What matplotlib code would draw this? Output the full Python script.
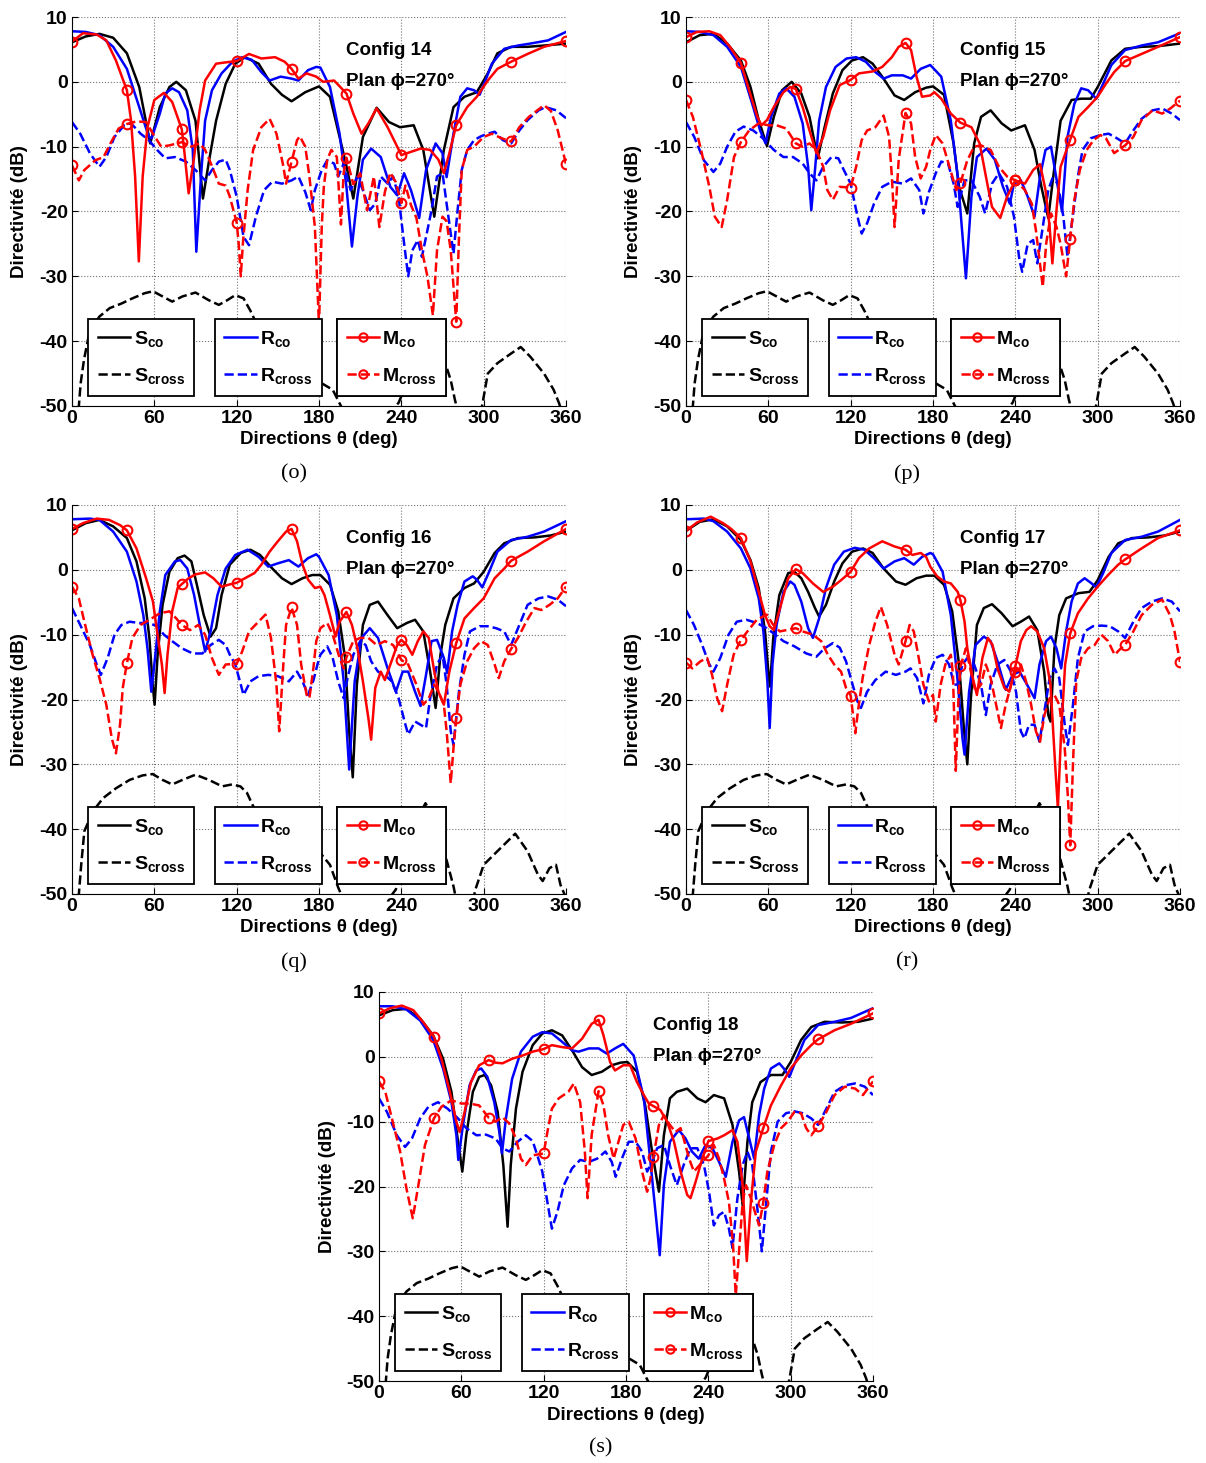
import numpy as np
import matplotlib
matplotlib.use("Agg")
import matplotlib.pyplot as plt
from matplotlib.lines import Line2D

plt.rcParams["font.family"] = ["Liberation Sans", "DejaVu Sans"]
plt.rcParams["font.weight"] = "bold"
plt.rcParams["axes.labelweight"] = "bold"
plt.rcParams["axes.unicode_minus"] = False
plt.rcParams["mathtext.default"] = "regular"

# -----------------------
# Data: (theta deg, directivity dB)
# -----------------------
CONFIGS = ["Config 14", "Config 15", "Config 16", "Config 17", "Config 18"]
PANEL_TAGS = ["(o)", "(p)", "(q)", "(r)", "(s)"]

S_CROSS_A = [(0, -62), (4, -62), (5, -50), (6.3, -46.5), (8.7, -42.9), (13, -38.3), (20, -36.2), (27.5, -34.9),
             (36, -34.2), (44, -33.4), (53, -32.6), (59, -32.3), (66, -33.1), (73, -33.9), (80.5, -33.1),
             (90, -32.5), (99.8, -33.7), (107, -34.4), (113, -33.7), (119, -32.9), (125, -33.4), (130, -35.3),
             (136, -38), (145, -42), (155, -45), (165, -46.3), (175, -46.5), (182, -46.5), (190, -47.5),
             (196, -50), (205, -53), (220, -55), (232, -51), (238, -49.5), (245, -46), (252, -41), (258, -38),
             (264, -38), (268, -40.4), (272, -43.4), (276, -46), (279, -49), (285, -54), (295, -53),
             (299, -49.8), (303, -45), (310, -43.4), (320, -41.9), (327, -40.9), (334, -42.4), (344, -45),
             (351, -47.5), (355, -49.6), (360, -53)]
S_CROSS_B = [(0, -62), (4, -62), (5, -50), (6.7, -45.5), (9, -40.3), (15.4, -37.2), (22.7, -35.2), (32, -33.7),
             (42, -32.4), (51.6, -31.7), (58.8, -31.5), (66, -32.4), (73, -33.1), (80.5, -32.4), (90, -31.6),
             (99.8, -32.4), (109.4, -33.4), (116.6, -33.1), (122.7, -33.4), (127.5, -34.4), (131, -36),
             (138, -39), (146, -42), (155, -44), (165, -44.5), (175, -44), (181, -43.7), (188, -45.5),
             (194, -49), (200, -52), (215, -55), (230, -51), (236, -49.3), (242, -45), (250, -39),
             (257.6, -36), (263, -38), (268.5, -41.7), (273, -44.8), (278, -48.8), (282, -53), (290, -53),
             (294, -49.3), (300, -45.5), (310, -43.4), (323, -40.7), (332, -43.4), (339.5, -47), (343, -48),
             (348, -46), (352.7, -45.5), (356, -48.6), (358.8, -50), (360, -52)]

# Config 14
S_CO_14 = [(0, 6.1), (10, 7.0), (20, 7.4), (30, 6.8), (40, 4.4), (49, -0.8), (57, -9.5), (64, -3.9), (71, -0.8),
           (76, 0), (83, -1.3), (90, -6), (95.4, -18), (100, -12), (105, -6), (112, -0.3), (119, 2.8), (126, 3.8),
           (136, 2.8), (145, -0.3), (153, -2), (160, -3), (170, -1.6), (180, -0.7), (188, -2.3), (195, -8.5),
           (200, -13), (205, -18), (212, -8.5), (222, -4), (231, -6.2), (239, -7), (249, -6.7), (256, -10.5),
           (264, -20.8), (271, -10.5), (278, -3.9), (286, -2.3), (295, -1.6), (303, 1.3), (310, 4.4),
           (320, 5.4), (332, 5.4), (344, 5.6), (360, 5.9)]
R_CO_14 = [(0, 7.8), (10, 7.7), (20, 7.2), (30, 5.4), (40, 2), (49, -3.9), (56, -8.5), (58, -8.7), (64, -4.9),
           (68, -1.8), (73, -1), (78, -1.6), (84, -4.4), (88, -10.5), (90.6, -26.2), (94, -14.6), (97, -6),
           (102, -1.3), (109, 1.3), (117, 3.1), (124, 3.8), (131, 3.4), (138, 1.5), (144, 0.2), (152, 0.8),
           (160, 0.5), (165, 0.2), (172, 1.8), (178, 2.3), (181, 2.2), (188, -0.8), (195, -8), (200, -16.2),
           (204, -25.4), (208, -17.7), (212, -12), (218, -10.3), (225, -11.6), (232, -16.2), (237, -17.5),
           (242, -14.1), (247, -16.7), (253, -21), (258, -13.6), (265, -9.5), (270, -11), (273, -14.7),
           (278, -8), (283, -2.3), (288, -1), (293, -1.3), (297, -2), (300, -0.5), (306, 2.8), (315, 5.1),
           (325, 5.6), (334, 5.9), (347, 6.4), (360, 7.7)]
R_CROSS_14 = [(0, -6.2), (6, -8), (13, -11), (20, -13.1), (25, -11.6), (31, -8.5), (38, -6.7), (43, -6.4),
              (50, -8), (56, -9), (62, -10.5), (68, -11.8), (75, -11.6), (83, -12.3), (90, -13.6), (97, -15.2),
              (102, -13.6), (107, -12.3), (112, -12), (115, -13.6), (120, -17.7), (125, -23.9), (129, -25.2),
              (134, -20.8), (140, -16.7), (146, -15.4), (153, -15.7), (160, -15.2), (165, -14.6), (170, -17),
              (174, -19.8), (177, -16.7), (182, -13.6), (186, -12.1), (191, -12.6), (194, -14.6), (198, -12.6),
              (203, -16.7), (208, -14.6), (212, -16.7), (217, -19.8), (221, -18.8), (225, -14.6), (230, -15.7),
              (234, -14.6), (238, -17.7), (242, -24.9), (245, -30), (248, -26), (252, -24.4), (255, -27),
              (259, -22.9), (262, -19.8), (266, -14.6), (270, -14.1), (273, -18.8), (278, -26.5), (281, -19.8),
              (284, -13.6), (288, -10.5), (293, -9), (298, -8.4), (303, -8), (308, -7.7), (314, -9), (320, -9.5),
              (326, -7.5), (332, -5.9), (340, -4.4), (345, -3.9), (353, -4.4), (360, -5.6)]
M_CO_14 = [(0, 6.2), (8, 7.5), (18, 7.3), (25, 6.4), (32, 3.3), (40, -1.3), (43, -5.9), (46, -14.6), (48.7, -27.7),
           (51.5, -14.6), (55, -7), (60, -2.8), (67, -1.7), (73, -3.1), (80, -7.3), (82, -11), (85, -17.2),
           (89, -11.6), (93, -4.4), (97, 0.2), (105, 2.8), (112, 3), (120, 3.2), (129, 4.3), (138, 3.6),
           (148, 3.8), (155, 3.1), (160, 2), (165, 0.5), (171, 1.3), (178, 0.8), (183, 0), (191, 0.2),
           (200, -1.8), (205, -4.9), (211, -8), (216, -6.4), (222, -4.1), (230, -7), (237, -10), (240, -11.3),
           (247, -10.8), (254, -10.3), (261, -10.5), (267, -12), (271, -14.1), (275, -11), (280, -6.7),
           (288, -3.9), (295, -2.3), (303, 0.2), (310, 2), (320, 3.1), (332, 4.3), (344, 5.4), (360, 6.3)]
M_CROSS_14 = [(0, -12.9), (5, -15.2), (9, -13.6), (17, -12.1), (23, -11.6), (28, -9.5), (34, -7.2), (40, -6.5),
              (47, -6.1), (54, -6.2), (59, -8), (65, -10), (71, -9.8), (80, -9.3), (87, -10), (93, -9.5),
              (97, -10.5), (102, -13), (107, -15.7), (112, -16), (115, -17.7), (120, -21.7), (121.5, -25),
              (123, -30), (124.5, -25), (128, -16.7), (132, -10.5), (138, -7), (144, -5.7), (149, -8), (154, -13),
              (156, -15.7), (160, -12.3), (164, -9), (166, -8.4), (170, -10), (173, -14.6), (177, -22.4),
              (180, -37.5), (182, -22.4), (183.5, -16.2), (186, -12), (189, -10.5), (193, -11.6), (196, -22),
              (198, -14), (200, -11.7), (205, -15.8), (210, -14.1), (215, -19.8), (220, -14.6), (224, -22.4),
              (228, -17), (232, -14), (236, -15.5), (240, -18.7), (243, -16), (247, -19), (251, -21), (255, -26),
              (259, -30), (263, -36), (266, -26), (270, -20.8), (273, -21.5), (276, -26), (280, -37), (282, -24),
              (284, -13.6), (288, -10.5), (293, -10), (300, -8.5), (306, -8), (313, -8.7), (320, -9.2),
              (326, -7), (333, -5.4), (344, -3.6), (349, -4.5), (354, -7.5), (360, -12.7)]

# Config 15
S_CO_15 = [(0, 6.1), (10, 7.2), (20, 7.4), (30, 5.9), (40, 3.3), (47, -0.8), (53, -5.9), (59, -9.9), (64, -5.4),
           (70, -1.3), (77, 0), (84, -1.8), (90, -5.4), (96, -11.8), (101, -7), (107, -1.8), (114, 1.8),
           (121, 3.3), (129, 3.8), (136, 2.8), (143, 0.8), (152, -2.1), (159, -2.8), (167, -1.6), (175, -0.9),
           (180, -0.7), (188, -2), (195, -9.5), (199, -16.2), (205, -20.3), (210, -9.5), (215, -5.4),
           (222, -4.4), (230, -6.4), (237, -7.5), (247, -6.7), (254, -10.5), (259, -16.2), (264, -21),
           (268, -14), (273, -6), (281, -2.8), (288, -2.6), (295, -2.6), (300, -0.8), (310, 3.3), (320, 5.1),
           (332, 5.4), (344, 5.5), (360, 5.9)]
R_CO_15 = [(0, 7.8), (10, 7.7), (20, 7.2), (30, 5.4), (40, 2.3), (49, -3.9), (54, -7.5), (58, -9.5), (62, -5.4),
           (68, -1.8), (73, -1), (79, -2.3), (85, -6.4), (89, -13.1), (91.3, -19.8), (94, -13.6), (97, -6),
           (102, -0.8), (109, 2.3), (117, 3.6), (124, 3.8), (131, 3.1), (138, 1.5), (144, 0.5), (150, 1),
           (158, 1), (164, 0.5), (171, 2), (178, 2.6), (186, 0.8), (193, -6), (198, -14.6), (204, -30.3),
           (208, -17.7), (212, -11.6), (219, -10.3), (225, -12), (231, -16.2), (236, -18.8), (239, -15.7),
           (244, -15.2), (249, -17.7), (254, -20.8), (258, -14.6), (262, -10.5), (266, -10), (270, -15),
           (274, -20), (278, -8.5), (283, -3.4), (288, -1), (293, -1.3), (299, -2.6), (304, -0.3), (310, 2.6),
           (320, 4.9), (332, 5.6), (344, 6.1), (360, 7.5)]
R_CROSS_15 = [(0, -6.2), (6, -8.5), (13, -12.1), (20, -13.9), (25, -12.6), (30, -10), (36, -7.7), (42, -6.9),
              (49, -7.5), (56, -8.7), (64, -10.5), (71, -11.6), (78, -11.6), (85, -12.6), (90, -14.1),
              (95, -15.2), (100, -13.1), (106, -11.6), (111, -11.8), (115, -13.6), (120, -15.7), (125, -20.8),
              (128, -23.4), (132, -21.8), (137, -18.8), (143, -16.2), (150, -15.4), (158, -15.7), (164, -14.9),
              (170, -16.7), (173, -20.3), (177, -17), (182, -14.1), (186, -12.3), (191, -12.6), (195, -15.7),
              (198, -19.3), (203, -15.2), (208, -15.2), (214, -17.7), (218, -20.3), (223, -15.7), (228, -14.1),
              (234, -16.2), (239, -20.8), (243, -27.5), (245, -29.3), (249, -25), (253, -24.4), (256, -28),
              (260, -22.4), (264, -16.7), (267, -14.9), (271, -15.7), (275, -20.8), (278, -27), (282, -20.5),
              (286, -14.1), (289, -10.5), (295, -8.7), (302, -8.2), (308, -8), (314, -8.7), (320, -9.5),
              (326, -7.5), (332, -5.7), (340, -4.4), (347, -4.1), (354, -4.9), (360, -5.9)]
M_CO_15 = [(0, 6.9), (8, 7.7), (17, 7.8), (25, 7.2), (32, 5.4), (40, 2.9), (46, -1.3), (52, -5.4), (55, -6.7),
           (59, -5.9), (64, -3.9), (71, -1.6), (76, -0.8), (80, -1.1), (85, -3.9), (90, -7.5), (95, -11),
           (100, -8.5), (105, -4.4), (112, -0.5), (120, 0.3), (126, 1.3), (136, 1.6), (143, 2.3), (150, 3.8),
           (155, 5.4), (160, 6), (164, 4.9), (168, 0.8), (172, -2.3), (178, -2.1), (181, -1.6), (186, -2.6),
           (193, -4.9), (200, -6.3), (208, -7), (214, -9.5), (220, -16.2), (223, -19.3), (229, -21),
           (234, -17.7), (240, -15.2), (247, -15.7), (253, -13.6), (258, -12.7), (262, -16.7), (265, -22.4),
           (267, -28), (270, -19.8), (273, -13.1), (280, -8.9), (286, -5.4), (293, -3.9), (300, -2.3),
           (306, -0.3), (312, 1.5), (320, 3.2), (332, 4.3), (344, 5.4), (360, 6.9)]
M_CROSS_15 = [(0, -2.8), (5, -5.4), (11, -10.5), (17, -16.2), (21, -20.8), (26, -22.4), (30, -18.2), (35, -11.6),
              (40, -9.3), (46, -7.5), (53, -6.4), (60, -6.7), (66, -6.7), (73, -7.2), (80, -9.5), (85, -10),
              (90, -9.5), (95, -10.5), (100, -13.1), (103, -16.7), (107, -18.2), (112, -16.2), (120, -16.3),
              (124, -13.1), (128, -9), (132, -7.5), (138, -7), (144, -5.2), (148, -8.5), (150, -14.6),
              (152, -22.4), (155, -12), (160, -4.8), (164, -6.4), (167, -11.6), (171, -14.9), (175, -13.1),
              (178, -10.5), (182, -8.2), (187, -9.5), (192, -13.1), (197, -16.7), (200, -15.6), (205, -12.1),
              (210, -10), (215, -9.8), (222, -10.5), (228, -13.1), (234, -14.6), (240, -15.2), (247, -16.7),
              (252, -18.8), (255, -22.9), (258.5, -29), (260, -31.6), (262.5, -24.9), (266, -20.3), (270, -22.4),
              (273, -25), (277, -30), (280, -24.2), (283, -18.2), (287, -13.6), (292, -10.5), (297, -9),
              (302, -8.2), (306, -8.7), (312, -11), (320, -9.8), (326, -8.5), (332, -5.9), (340, -4.4),
              (347, -4.9), (353, -4.1), (360, -2.9)]

# Config 16
S_CO_16 = [(0, 6.1), (10, 7.2), (20, 7.7), (30, 6.7), (40, 4.9), (47, 1.3), (53, -4.4), (56.4, -10.5),
           (58.8, -17.7), (60.2, -20.8), (62.4, -13.1), (66, -5.4), (71, -0.3), (77, 1.8), (82, 2.2), (87, 1.3),
           (91, -2.3), (96, -7), (101, -10.3), (105, -9), (109, -3.9), (115, 0.8), (123, 2.6), (130, 3.1),
           (137, 2.3), (146, 0.2), (153, -1.3), (160, -2.2), (168, -1.3), (175, -0.8), (181, -0.8), (188, -2.3),
           (194, -6.4), (199, -13.6), (202, -25), (204.6, -32), (207.6, -17.7), (212, -8.5), (217, -5.4),
           (223, -4.9), (230, -7), (237, -9), (244, -8.2), (250, -7.7), (256, -9.5), (261, -15.7), (265, -21.3),
           (268.5, -13.1), (272, -8.5), (278, -4.4), (286, -2.8), (293, -2.1), (300, -0.3), (308, 2.6),
           (315, 4.1), (325, 4.9), (337, 5), (349, 5.3), (360, 5.9)]
R_CO_16 = [(0, 7.8), (13, 7.9), (20, 7.7), (30, 5.9), (40, 2.8), (47, -1.8), (52, -7), (55, -12.1), (57.8, -18.8),
           (60, -14.6), (64, -6.4), (68, -0.8), (75, 1.3), (79, 1.5), (84, 0.2), (89, -3.9), (94, -9.5),
           (97, -12.6), (101, -9.5), (106, -3.9), (112, 0.2), (119, 2.3), (128, 3.1), (136, 2), (143, 0.5),
           (150, 1), (158, 1.5), (165, 0.5), (172, 1.8), (178, 2.4), (180, 2), (187, -0.8), (193, -7),
           (198, -17.2), (202, -30.8), (206, -17.2), (211, -10.5), (217, -9), (223, -10.5), (230, -15.2),
           (236, -18.8), (241, -15.7), (245, -15.7), (250, -18.8), (254, -21), (258, -16.2), (262, -11),
           (266, -10.8), (271, -13.6), (273.4, -15.9), (277, -9.5), (281, -5.4), (286, -1.8), (292, -1),
           (295, -1.5), (299, -2.7), (304, -0.3), (310, 2.8), (320, 4.6), (332, 5.1), (344, 5.9), (360, 7.5)]
R_CROSS_16 = [(0, -5.9), (6, -8.5), (13, -11.6), (18, -14.6), (21, -16.2), (26, -13.6), (31, -10), (36, -8.5),
              (42, -8), (49, -8.2), (56, -8.2), (62, -8.7), (67, -10), (73, -11), (80, -12.1), (88, -12.9),
              (95, -12.9), (101, -11.6), (107, -10.8), (112, -11.6), (115, -13.1), (119, -14.6), (123, -17.7),
              (125, -19.3), (130, -17.2), (136, -16.4), (143, -16.2), (150, -16.4), (158, -17.2), (164, -15.7),
              (168, -17.2), (172, -19.3), (176, -17), (179, -14.5), (181, -13.1), (186, -11.8), (190, -13.6),
              (194, -17.2), (198, -19.8), (201, -16.5), (205, -13.1), (210, -11), (214, -11.6), (218, -14.1),
              (223, -15.7), (228, -16.2), (233, -17.2), (238, -19.8), (243, -23.9), (245, -25.4), (250, -23.4),
              (254, -23.9), (258, -24.4), (261, -19.8), (266, -14.6), (270, -13.1), (273, -17.7), (276, -24.9),
              (278, -27), (282, -18.8), (286, -13.1), (290, -9.5), (297, -8.7), (303, -8.7), (309, -9),
              (315, -9.5), (320, -11.6), (326, -8.5), (332, -5.4), (340, -4.4), (347, -4.1), (354, -4.6),
              (360, -5.6)]
M_CO_16 = [(0, 6.3), (8, 7.2), (18, 7.9), (27, 7.7), (35, 6.9), (40, 6.1), (47, 3.3), (54, -1.3), (59, -4.9),
           (62, -9.5), (65.5, -14.6), (67.5, -19), (69.6, -13.1), (73, -6.4), (77, -2.8), (80, -2.2), (85, -1.3),
           (90, -0.7), (97, -0.4), (103, -1.3), (109, -2.6), (114, -2.3), (120, -2), (126, -1.3), (133, -0.5),
           (138, 0.8), (144, 2.8), (150, 4.4), (156, 5.9), (160, 6.3), (164, 4.4), (168, 0.8), (172, -1.5),
           (177, -2.8), (181, -2.6), (184, -3.9), (188, -7), (192, -10.3), (195, -8), (200, -6.5), (204, -8.5),
           (208, -12.1), (212, -17.2), (216, -22.9), (218, -26.2), (221, -18.2), (225, -15.7), (228, -17),
           (232, -14.6), (237, -11.6), (240, -10.8), (244, -11.6), (248, -13.1), (252, -11), (256, -9.5),
           (260, -10.5), (264, -15.7), (267, -18.8), (271, -20.8), (275, -15.7), (280, -11.3), (286, -7.5),
           (293, -5.9), (300, -4.4), (308, -1.3), (315, 0.2), (320, 1.4), (332, 2.8), (344, 4.4), (360, 6.3)]
M_CROSS_16 = [(0, -2.6), (5, -4.4), (9, -8), (15, -13.1), (20, -16.7), (25, -20.8), (29, -26), (32, -28.3),
              (35, -23.9), (37, -18.2), (40, -14.4), (44, -10.5), (50, -8.5), (58, -7.5), (64, -6.7), (71, -6.4),
              (76, -7.5), (80, -8.5), (86, -9.3), (92, -8.5), (97, -10), (102, -13.6), (107, -16.2), (112, -14.6),
              (120, -14.5), (124, -12.6), (129, -9.5), (135, -8.2), (141, -6.9), (145, -10.5), (149, -17.7),
              (151, -24.9), (154, -14.6), (156, -8.5), (160, -5.8), (164, -8.5), (167, -14.6), (171, -19.3),
              (173, -19.8), (176, -15), (178, -11), (181, -9), (186, -8.2), (190, -10), (195, -13.6),
              (198, -15.2), (200, -13.5), (205, -11), (210, -10.5), (216, -10.5), (222, -11.6), (228, -11),
              (234, -11.6), (240, -13.9), (245, -14.6), (251, -17.7), (256, -20.8), (260, -19.8), (264, -17.7),
              (267, -18.8), (271, -20.8), (273, -24.9), (276, -32.9), (278, -27.5), (280, -22.9), (283, -17.7),
              (288, -14.1), (293, -12.1), (298, -11), (303, -11.6), (308, -14.6), (311, -16.7), (315, -14.1),
              (320, -12.2), (325, -10.5), (331, -8), (337, -5.9), (342, -6.2), (348, -5.4), (354, -4.4),
              (360, -2.6)]

# Config 17
S_CO_17 = [(0, 6), (10, 7.4), (20, 7.8), (30, 6.7), (40, 4.6), (47, 1.5), (53, -2.8), (57.6, -9.5), (60, -15.7),
           (61.2, -18), (63.6, -10.5), (68, -3.9), (74.5, -0.5), (79, -0.3), (84, -1.3), (89, -3.4), (94, -5.9),
           (97, -7.2), (102, -5.4), (108, -1.8), (114, 1), (121, 2.8), (129, 3.3), (136, 2.6), (144, 0.2),
           (153, -1.8), (160, -2.3), (168, -1.3), (175, -0.9), (181, -0.9), (188, -2.3), (194, -6.4),
           (199, -14.6), (202.7, -25), (205, -30), (207.6, -19.8), (212, -8.5), (217, -5.9), (223, -5.3),
           (230, -6.7), (238, -8.7), (244, -8), (250, -7.2), (256, -9.3), (261, -15.7), (264, -22.4),
           (265.6, -23.4), (268.5, -12.1), (272, -7), (277, -4.4), (286, -3.6), (294, -3.4), (300, -1.6),
           (308, 2), (315, 4.1), (325, 4.9), (337, 5), (349, 5.3), (360, 5.9)]
R_CO_17 = [(0, 7.8), (13, 7.9), (20, 7.5), (30, 5.9), (40, 3.3), (47, 0.2), (53, -4.4), (56.4, -9.5),
           (59.3, -17.2), (61, -24.4), (63, -14.6), (66, -8.5), (71, -3.4), (76, -1.8), (79, -2.3), (84, -4.9),
           (89, -9), (92.5, -10.5), (97, -7.5), (102, -2.8), (108, 0.8), (115, 2.8), (123, 3.4), (130, 3.1),
           (137, 1.8), (144, 0.2), (152, 1.3), (159, 1.8), (166, 0.8), (172, 2), (178, 2.6), (180, 2.4),
           (187, -0.3), (193, -7), (198, -17.2), (201.5, -26), (203, -28.5), (206.3, -18.8), (211, -11.6),
           (217, -10.3), (222, -11), (227, -14.1), (233, -18.5), (238, -16.2), (243, -15.7), (248, -17.5),
           (254, -19.8), (257.6, -14.6), (262.4, -11), (266, -10.3), (270, -12.1), (273.4, -15.2), (277, -9.5),
           (281, -4.9), (285.6, -2.1), (290.5, -1.3), (295, -2), (299, -2.7), (304, -0.5), (310, 2.6),
           (320, 4.6), (332, 5.1), (344, 5.9), (360, 7.7)]
R_CROSS_17 = [(0, -6.2), (5.8, -8.5), (11.8, -11.6), (16.6, -14.4), (20, -15.7), (25, -13.6), (31, -10), (37, -8),
              (44, -7.7), (51.6, -8.2), (58.8, -9), (65, -10), (71, -11), (79, -11.8), (87.7, -12.9), (95, -13.4),
              (101, -12.1), (107, -11.3), (112, -12), (116.6, -14.1), (121.4, -17.7), (125, -20.3),
              (127.5, -21.3), (132, -18.8), (138, -17), (145.5, -15.7), (153, -16.2), (160, -15.7),
              (163.6, -15.2), (168.4, -16.7), (173, -20.6), (177, -16.2), (182, -13.6), (187, -13.1),
              (191.7, -14.6), (195.4, -17.7), (198, -17.7), (201.5, -14.6), (205, -13.6), (210, -14.6),
              (215, -17.7), (218.5, -22.4), (222, -17.7), (227, -14.6), (232, -13.9), (236.8, -15.7),
              (240.5, -18.8), (244, -24.9), (246.6, -26), (250, -23.9), (254, -23.9), (257.6, -26.5),
              (261.2, -21.8), (265, -16.7), (268.5, -15.2), (272, -16.7), (276, -23.9), (278.3, -27),
              (282, -20.8), (285.6, -13.6), (290.5, -9.5), (296.6, -8.7), (302.7, -8.6), (308.8, -8.7),
              (315, -9.5), (320, -10.5), (326, -8), (332, -5.9), (339.5, -4.9), (347, -4.4), (354, -4.9),
              (360, -6.4)]
M_CO_17 = [(0, 6), (8, 7.3), (18, 8.2), (27, 7.2), (33, 6.3), (40, 4.9), (47, 1.3), (53, -3.4), (57.6, -7),
           (61, -8.7), (64, -9.3), (68.4, -6), (74.5, -1.3), (80, 0.1), (85, -0.5), (92.5, -2.1), (100, -3.4),
           (107, -2.6), (113, -1.6), (120, -0.3), (126, 1.8), (133.5, 3.3), (143, 4.4), (152, 3.6), (160, 3.1),
           (165, 2.3), (171, 2.6), (175, 2), (178, 0.5), (183, -1), (188, -1.8), (193, -2.1), (198, -3.4),
           (200, -4.7), (203, -8), (205, -12.1), (209, -16.7), (212, -19.3), (216, -13.6), (220, -10.5),
           (223.4, -11.6), (227, -15.2), (232, -18.2), (235.6, -18.8), (240, -14.9), (244, -11), (248, -9.3),
           (251.5, -8.7), (256, -9.5), (261, -12.1), (265.6, -17.7), (269, -30), (271, -36.8), (273.4, -24.9),
           (276.3, -14.6), (280, -9.8), (285.6, -6.7), (293, -4.4), (300, -2.6), (307.6, -0.8), (315, 0.8),
           (320, 1.6), (332, 3.3), (344, 4.9), (360, 6.1)]
M_CROSS_17 = [(0, -14.3), (4.6, -15.2), (10.6, -14.1), (15.4, -13.6), (19, -16.2), (22.7, -19.8), (26.3, -21.8),
              (30, -17.7), (34.7, -13.1), (40, -10.8), (45.5, -9.3), (51.6, -7.7), (58.8, -6.9), (63.6, -8.5),
              (68.4, -9.5), (73, -9.3), (80, -9), (85, -9.5), (92.5, -10), (98.5, -11), (103.4, -13.1),
              (108, -14.6), (113, -15.7), (116.6, -18.2), (120, -19.4), (121.4, -21.8), (123.4, -25.2),
              (125.3, -21.8), (128.7, -16.7), (133.5, -11.6), (138, -8), (142, -5.7), (146.6, -8.5),
              (152, -13.1), (155, -14.6), (160, -11), (163, -8.5), (166, -9.5), (169.6, -13.6), (173, -17.7),
              (177, -20.3), (180, -19.3), (182, -23.4), (185.6, -17.7), (189, -14.6), (193, -13.1),
              (194.5, -16), (196.6, -31), (198.5, -20), (200, -14.9), (204, -12.1), (207.6, -15.7),
              (211, -18.8), (215, -17.7), (218.5, -14.6), (222, -16.7), (226, -20.8), (229.5, -24.4),
              (233, -20.8), (237, -17.7), (240, -15.7), (244, -14.6), (247.8, -17.2), (251.5, -20.8),
              (255, -24.9), (258, -26.5), (261.2, -22.4), (265, -19.8), (268.5, -19.3), (272, -20.8),
              (276, -27.5), (278.3, -35), (280, -42.5), (282, -30), (284.4, -17.2), (288, -13.6), (293, -12.1),
              (297.8, -11.6), (302.7, -10), (307.6, -11), (312.4, -13.1), (316, -12.3), (320, -11.6),
              (326, -9.5), (332, -7), (339.5, -5.4), (347, -4.6), (352.7, -7), (356, -9.5), (360, -14.2)]

# Config 18
S_CO_18 = [(0, 6.4), (10, 7.2), (20, 7.4), (30, 5.9), (39.5, 3.3), (46.7, -0.3), (52.8, -5.4), (57.6, -13.1),
           (60.7, -17.7), (63.6, -12.1), (68.4, -5.4), (73, -3.1), (77, -2.8), (81.7, -4.4), (86.5, -8.5),
           (90.6, -16.7), (93.7, -26.2), (96, -16.7), (99.8, -8), (104.6, -2.3), (112, 1.8), (119, 3.6),
           (126, 4.1), (133.5, 3.3), (140.7, 1), (148, -1.6), (155, -2.8), (162.4, -2.3), (169.6, -1.3),
           (176, -0.9), (181, -0.8), (188, -2.3), (194, -7.5), (199, -14.6), (204, -20.8), (207.6, -12.1),
           (212, -6.4), (217, -5.4), (224.6, -4.9), (232, -6.4), (238, -7), (244, -5.9), (251.5, -6.4),
           (257.6, -10.5), (262.4, -17.7), (265, -22.9), (268.5, -13.1), (272, -7), (278, -3.9), (285.6, -2.8),
           (294, -2.8), (300, -0.8), (307.6, 2.6), (315, 4.6), (324.6, 5.4), (337, 5.3), (349, 5.4), (360, 5.9)]
R_CO_18 = [(0, 7.8), (10, 7.8), (20, 7.3), (30, 5.6), (39.5, 2.6), (46.7, -1.8), (52.8, -7), (56.4, -12.1),
           (57.8, -15.9), (61.2, -10.5), (66, -4.4), (70.8, -2.1), (74.5, -1.8), (79, -3.1), (84, -7),
           (87.7, -11.6), (89.6, -14.9), (92.5, -9.5), (97, -3.4), (103.4, 0.8), (112, 3.1), (119, 3.8),
           (126, 3.6), (133.5, 2.3), (140.7, 1), (145.5, 0.8), (153, 1.3), (160, 1.3), (166, 0.5), (172, 1.3),
           (178, 2), (185.6, 0.2), (193, -6.4), (197.8, -16.2), (202, -25), (204.6, -30.6), (207.6, -19.8),
           (212, -13.1), (218.5, -11.3), (223.4, -12.6), (228, -14.6), (233, -15.7), (238, -13.6), (243, -14.1),
           (247.8, -16.2), (252.7, -18.5), (257.6, -13.1), (262.4, -9.8), (266, -9.3), (269.8, -12.6),
           (273.4, -15.7), (277, -9), (280.7, -4.9), (285.6, -1.8), (291.7, -1), (295, -1.8), (299, -3.1),
           (304, -0.5), (310, 2.6), (320, 4.9), (332, 5.4), (344, 6), (360, 7.5)]
R_CROSS_18 = [(0, -6.4), (5.8, -8.5), (13, -12.1), (19, -13.9), (24, -12.6), (30, -9.5), (36, -7.7), (43, -7),
              (50, -8), (57.6, -9.5), (63.6, -11), (71, -12.1), (78, -12), (85, -12.6), (90, -14.1), (95, -14.6),
              (101, -13.1), (107, -12.1), (112, -13), (115.4, -15.2), (119, -17.7), (122.7, -22.4), (126, -26.5),
              (130, -23.9), (134.7, -19.8), (140.7, -17.2), (146.6, -15.9), (153, -16.2), (159, -15.7),
              (165, -14.6), (169.6, -16.2), (172.5, -18.5), (177, -15.7), (182, -13.1), (187, -13.1),
              (191.7, -14.6), (195.4, -17.7), (199, -16.2), (202.7, -14.1), (207.6, -13.6), (212, -16.7),
              (217, -19.8), (222, -16.7), (227, -14.1), (232, -14.1), (236.8, -16.7), (240.5, -20.8), (244, -26),
              (247.8, -24.4), (251.5, -23.9), (255, -26.5), (257.6, -29.5), (261.2, -21.8), (265, -16.7),
              (268.5, -14.6), (272, -16.7), (276, -23.9), (279, -30), (282, -22.9), (285.6, -14.6),
              (290.5, -10), (296.6, -8.7), (302.7, -8.4), (308.8, -8.7), (315, -9.5), (320, -10.5), (326, -8),
              (332, -5.4), (339.5, -4.4), (347, -4.1), (354, -4.6), (360, -5.9)]
M_CO_18 = [(0, 6.7), (8, 7.5), (16.6, 7.9), (25, 7.2), (32, 5.4), (40, 3.1), (45.5, -0.3), (51.6, -5.4),
           (56.4, -10), (58.8, -11.6), (62.4, -8.5), (67, -3.9), (73, -1.3), (80, -0.5), (85, -0.9), (90, -1),
           (97, -0.3), (104.6, 0.2), (112, 0.8), (120, 1.2), (126, 1.8), (133.5, 1.5), (140.7, 1.3), (148, 2.8),
           (155, 5.1), (160, 5.7), (163.6, 3.3), (168.4, -0.8), (172, -2.1), (178, -1.3), (183, -1.3),
           (188, -3.9), (193, -5.9), (196.6, -7.2), (200, -7.6), (205, -8.2), (210, -10), (215, -13.1),
           (219.8, -17.7), (224.6, -21.3), (227, -21.8), (230.7, -19.3), (235.6, -15.7), (240, -13),
           (246.6, -12.6), (251.5, -12.1), (257.6, -11.3), (261.2, -13.1), (265, -19.8), (268, -31.5),
           (271, -22.4), (274.6, -14.6), (280, -11), (285.6, -7.5), (293, -4.4), (300, -1.8), (307.6, 0.2),
           (315, 1.8), (320, 2.7), (332, 4.1), (344, 5.1), (360, 6.7)]
M_CROSS_18 = [(0, -3.8), (4.6, -5.4), (9.4, -9.5), (15.4, -14.6), (20, -20.3), (24.6, -24.9), (28.7, -19.8),
              (33.5, -13.6), (40, -9.5), (45.5, -7.7), (52.8, -6.7), (60, -7.2), (66, -7.2), (73, -7.5),
              (80, -9.4), (85, -10), (90, -9.3), (95, -10.3), (99.8, -12.6), (103.4, -15.7), (107, -16.7),
              (112, -15.2), (120, -14.9), (122.7, -11.6), (126, -8), (131, -6.4), (138, -5.4), (142, -4.1),
              (146.6, -7), (150, -14.6), (152, -21.8), (155, -12), (160, -5.3), (163.6, -7.5), (167, -12.1),
              (171, -15.7), (174.5, -13.1), (178, -10.5), (182, -10), (187, -12.6), (191.7, -17.7),
              (195.4, -20.8), (197.8, -18.8), (200, -15.4), (204, -10.5), (207.6, -9), (212, -10.5),
              (216, -11.6), (219.8, -11), (222, -12.6), (226, -15.7), (229.5, -17.7), (234.4, -16.5),
              (240, -15.2), (244, -13.6), (247.8, -15.7), (251.5, -18.8), (255, -22.4), (258, -29), (260, -36.8),
              (262.4, -30), (265, -22.4), (267.4, -19.8), (271, -21.8), (274.6, -24.4), (277, -26), (280, -22.5),
              (283, -17.7), (288, -13.6), (293, -11), (297.8, -10), (302.7, -8.5), (307.6, -8.7), (311.3, -11),
              (315, -12.1), (320, -10.7), (326, -8.5), (332, -5.9), (339.5, -4.6), (347, -4.9), (352.7, -5.9),
              (360, -3.8)]

S_CO = [S_CO_14, S_CO_15, S_CO_16, S_CO_17, S_CO_18]
S_CROSS = [S_CROSS_A, S_CROSS_A, S_CROSS_B, S_CROSS_B, S_CROSS_A]
R_CO = [R_CO_14, R_CO_15, R_CO_16, R_CO_17, R_CO_18]
R_CROSS = [R_CROSS_14, R_CROSS_15, R_CROSS_16, R_CROSS_17, R_CROSS_18]
M_CO = [M_CO_14, M_CO_15, M_CO_16, M_CO_17, M_CO_18]
M_CROSS = [M_CROSS_14, M_CROSS_15, M_CROSS_16, M_CROSS_17, M_CROSS_18]

X_TICKS = [0, 60, 120, 180, 240, 300, 360]
Y_TICKS = [-50, -40, -30, -20, -10, 0, 10]

# -----------------------
# Layout (pixels)
# -----------------------
FIG_W, FIG_H = 1206, 1463
AX_W, AX_H = 494, 389
AX_POS = [(72, 17), (686, 17), (72, 505), (686, 505), (379, 992)]
TAG_POS = [(294, 474), (907, 474), (294, 962), (907, 962), (601, 1448)]
LW = 1.8


def xy(pts):
    a = np.array(pts, dtype=float)
    return a[:, 0], a[:, 1]


def box_legend(ax, handles, labels, x0):
    leg = ax.legend(handles, labels, loc="lower left", bbox_to_anchor=(x0, 0.026),
                    borderaxespad=0, frameon=True, fancybox=False, edgecolor="k",
                    framealpha=1, handlelength=1.65, handletextpad=0.2, borderpad=0.5,
                    labelspacing=0.9, numpoints=1, prop={"size": 14, "weight": "bold"})
    leg.get_frame().set_linewidth(1.3)
    leg.set_zorder(10)
    ax.add_artist(leg)


fig = plt.figure(figsize=(FIG_W / 100, FIG_H / 100), dpi=100)

for i in range(5):
    l, t = AX_POS[i]
    ax = fig.add_axes([l / FIG_W, 1 - (t + AX_H) / FIG_H, AX_W / FIG_W, AX_H / FIG_H])

    for pts, col, ls in [(S_CO[i], "k", "-"), (S_CROSS[i], "k", "--"),
                         (R_CO[i], "b", "-"), (R_CROSS[i], "b", "--")]:
        th, v = xy(pts)
        ax.plot(th, v, color=col, ls=ls, lw=LW)
    for pts, ls in [(M_CO[i], "-"), (M_CROSS[i], "--")]:
        th, v = xy(pts)
        mark = list(np.isclose(th % 40, 0))
        ax.plot(th, v, color="r", ls=ls, lw=LW, marker="o", ms=7, mfc="none",
                mew=1.5, markevery=mark)

    ax.set_xlim(0, 360)
    ax.set_ylim(-50, 10)
    ax.set_xticks(X_TICKS)
    ax.set_yticks(Y_TICKS)
    ax.grid(True, ls=":", color="0.45", lw=0.8)
    ax.spines["top"].set_visible(False)
    ax.spines["right"].set_visible(False)
    ax.tick_params(direction="in", length=4, labelsize=14, pad=3)

    ax.set_xlabel("Directions θ (deg)", fontsize=13.5, va="center")
    ax.xaxis.set_label_coords(0.5, -34 / AX_H)
    ax.set_ylabel("Directivité (dB)", fontsize=13.5, va="center")
    ax.yaxis.set_label_coords(-52 / AX_W, 0.5)

    ax.text(200, 4.9, CONFIGS[i], fontsize=13.5, va="center", ha="left")
    ax.text(200, 0, "Plan ϕ=270°", fontsize=13.5, va="center", ha="left")

    box_legend(ax, [Line2D([], [], color="k", lw=LW), Line2D([], [], color="k", lw=LW, ls="--")],
               [r"$S_{co}$", r"$S_{cross}$"], 0.032)
    box_legend(ax, [Line2D([], [], color="b", lw=LW), Line2D([], [], color="b", lw=LW, ls="--")],
               [r"$R_{co}$", r"$R_{cross}$"], 0.289)
    box_legend(ax, [Line2D([], [], color="r", lw=LW, marker="o", ms=6, mfc="none", mew=1.5),
                    Line2D([], [], color="r", lw=LW, ls="--", marker="o", ms=6, mfc="none", mew=1.5)],
               [r"$M_{co}$", r"$M_{cross}$"], 0.536)

    tx, ty = TAG_POS[i]
    fig.text(tx / FIG_W, 1 - ty / FIG_H, PANEL_TAGS[i], ha="center", va="center",
             family="Liberation Serif", weight="normal", fontsize=16)

fig.savefig("out.png", dpi=100, facecolor="white")
